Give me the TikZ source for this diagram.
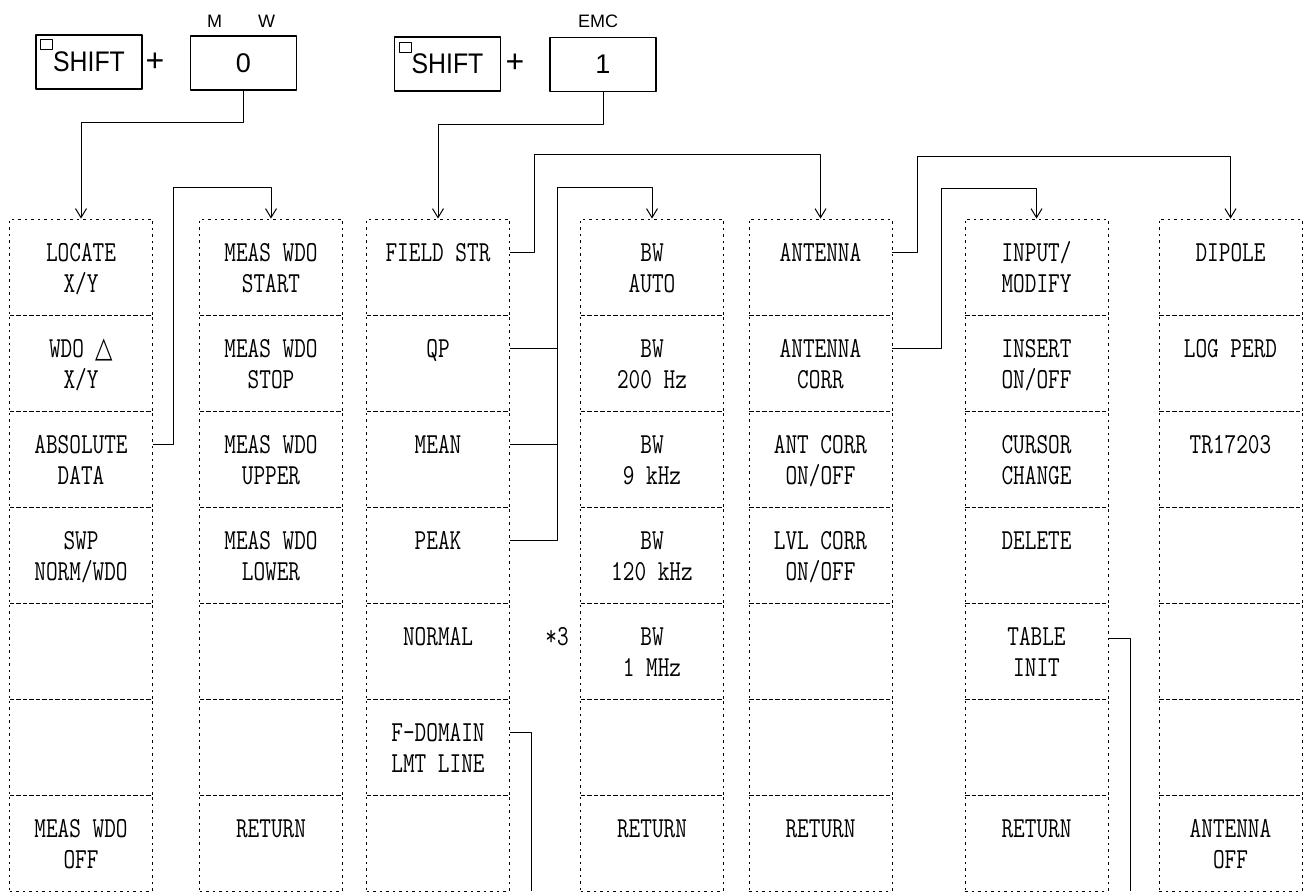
\documentclass[tikz,border=0pt]{standalone}
\usepackage{fontspec}
\usepackage{graphicx}
\setmainfont{Liberation Sans}
\newfontfamily\symfont{DejaVu Sans}
\usetikzlibrary{arrows.meta,positioning}

% condensed typewriter text, first line near the top of the cell
\newcommand{\cellfont}{\ttfamily\fontsize{29}{31}\selectfont}
\newcommand{\menutext}[1]{\scalebox{0.78}[1]{\begin{minipage}[c][96pt][t]{183.3pt}\centering\cellfont\rule{0pt}{42pt}#1\end{minipage}}}

\tikzset{
    keybox/.style={draw, line width=1.2pt, minimum width=106pt, minimum height=54pt,
        inner sep=0pt, font=\fontsize{27}{27}\selectfont},
    keylabel/.style={font=\fontsize{18}{18}\selectfont},
    plus/.style={font=\fontsize{32}{32}\selectfont},
    cell/.style={draw, dash pattern=on 2.5pt off 4pt, line width=0.9pt, inner sep=0pt},
    conn/.style={line width=1pt},
    tip/.style={-{Straight Barb[length=9pt,width=11pt]}}
}

\begin{document}
\begin{tikzpicture}[x=1pt, y=-1pt, line join=round]

% ---------------------------------------------------------
% 1. PAGE FRAME (same size as the scanned page)
% ---------------------------------------------------------
\path[use as bounding box] (0,0) rectangle (1307,892);

% ---------------------------------------------------------
% 2. KEYS
% ---------------------------------------------------------
\node[keybox] (shiftA) at (89,62) {\scalebox{0.92}[1.05]{SHIFT}};
\node[keybox] (keyZero) at (243.5,63) {0};
\node[keybox] (shiftB) at (447.5,64) {\scalebox{0.92}[1.05]{SHIFT}};
\node[keybox] (keyOne) at (603,64.5) {1};

\node[plus] (plusA) at (155,62) {+};
\node[plus] (plusB) at (515,63) {+};

% small square in the corner of the SHIFT keys
\draw[line width=1pt] ([shift={(5,5)}]shiftA.north west) rectangle ++(12,10);
\draw[line width=1pt] ([shift={(6,6)}]shiftB.north west) rectangle ++(12,10);

\node[keylabel] (mwLabel) at (241,21) {M\hspace{36pt}W};
\node[keylabel] (emcLabel) at (598,21) {EMC};

% ---------------------------------------------------------
% 3. SOFT KEY MENUS (7 cells each)
% ---------------------------------------------------------
\foreach \txt [count=\rw from 0] in {{LOCATE\\X/Y}, {WDO {\symfont △}\\X/Y},
        {ABSOLUTE\\DATA}, {SWP\\NORM/WDO}, {}, {}, {MEAS WDO\\OFF}}
    \node[cell] (mw\rw) at (81, 267+96*\rw) {\menutext{\txt}};

\foreach \txt [count=\rw from 0] in {{MEAS WDO\\START}, {MEAS WDO\\STOP},
        {MEAS WDO\\UPPER}, {MEAS WDO\\LOWER}, {}, {}, {RETURN}}
    \node[cell] (mwd\rw) at (271, 267+96*\rw) {\menutext{\txt}};

\foreach \txt [count=\rw from 0] in {{FIELD STR}, {QP}, {MEAN}, {PEAK},
        {NORMAL}, {F-DOMAIN\\LMT LINE}, {}}
    \node[cell] (emc\rw) at (438, 267+96*\rw) {\menutext{\txt}};

\foreach \txt [count=\rw from 0] in {{BW\\AUTO}, {BW\\200 Hz}, {BW\\9 kHz},
        {BW\\120 kHz}, {BW\\1 MHz}, {}, {RETURN}}
    \node[cell] (bw\rw) at (652, 267+96*\rw) {\menutext{\txt}};

\foreach \txt [count=\rw from 0] in {{ANTENNA}, {ANTENNA\\CORR}, {ANT CORR\\ON/OFF},
        {LVL CORR\\ON/OFF}, {}, {}, {RETURN}}
    \node[cell] (ant\rw) at (820.5, 267+96*\rw) {\menutext{\txt}};

\foreach \txt [count=\rw from 0] in {{INPUT/\\MODIFY}, {INSERT\\ON/OFF},
        {CURSOR\\CHANGE}, {DELETE}, {TABLE\\INIT}, {}, {RETURN}}
    \node[cell] (tbl\rw) at (1036.5, 267+96*\rw) {\menutext{\txt}};

\foreach \txt [count=\rw from 0] in {{DIPOLE}, {LOG PERD}, {TR17203},
        {}, {}, {}, {ANTENNA\\OFF}}
    \node[cell] (atype\rw) at (1230.5, 267+96*\rw) {\menutext{\txt}};

\node (note3) at (557,637) {\scalebox{0.78}[1]{\cellfont *3}};

% ---------------------------------------------------------
% 4. CONNECTORS
% ---------------------------------------------------------
\draw[conn, tip] (keyZero.south) -- ++(0,32) -| (mw0.north);
\draw[conn, tip] (keyOne.south) -- ++(0,32) -| (emc0.north);

\draw[conn, tip] ([yshift=-34pt]mw2.north east) -- ++(21,0)
    |- ([yshift=31pt]mwd0.north) -- (mwd0.north);

\draw[conn, tip] ([yshift=-34pt]emc0.north east) -- ++(25,0)
    |- ([yshift=64pt]ant0.north) -- (ant0.north);

\draw[conn, tip] ([yshift=-34pt]emc3.north east) -- ++(48,0)
    |- ([yshift=31pt]bw0.north) -- (bw0.north);
\draw[conn] ([yshift=-34pt]emc1.north east) -- ++(48,0);
\draw[conn] ([yshift=-34pt]emc2.north east) -- ++(48,0);

\draw[conn, tip] ([yshift=-34pt]ant0.north east) -- ++(25,0)
    |- ([yshift=62pt]atype0.north) -- (atype0.north);
\draw[conn, tip] ([yshift=-34pt]ant1.north east) -- ++(49,0)
    |- ([yshift=30pt]tbl0.north) -- (tbl0.north);

% lines running off the bottom of the page
\draw[conn] ([yshift=-34pt]emc5.north east) -- ++(22,0) coordinate (fdom)
    -- (fdom |- emc6.south);
\draw[conn] ([yshift=-36pt]tbl4.north east) -- ++(22,0) coordinate (tinit)
    -- (tinit |- tbl6.south);

\end{tikzpicture}
\end{document}
